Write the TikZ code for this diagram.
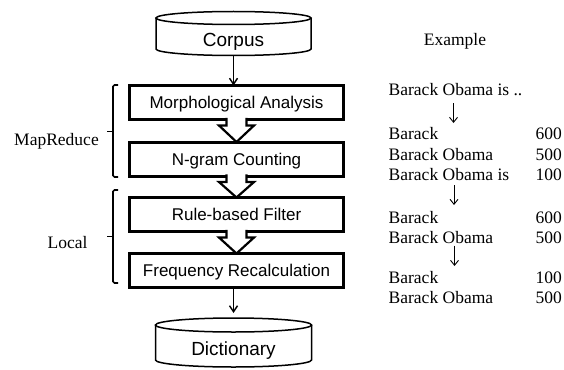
\documentclass[tikz,border=0pt]{standalone}
\usepackage{fontspec}
\setmainfont{Liberation Serif}
\setsansfont{Liberation Sans}
\usetikzlibrary{arrows.meta,calc}

\tikzset{
  stage/.style={draw, line width=3pt, outer sep=0pt, inner sep=0pt,
    minimum width=214pt, minimum height=34pt,
    text height=12.2pt, text depth=0pt,
    font=\sffamily\fontsize{17}{20}\selectfont},
  drumtext/.style={inner sep=0pt, text height=13.6pt, text depth=0pt,
    font=\sffamily\fontsize{19}{22}\selectfont},
  drumline/.style={line width=1.5pt, fill=white},
  flow/.style={line width=1.4pt, -{Straight Barb[length=6pt,width=8pt]}},
  hollow/.style={draw, fill=white, line width=2.2pt, line join=miter},
  bracket/.style={line width=1.7pt, rounded corners=1.5pt},
  serif/.style={inner sep=0pt, text height=11.5pt, text depth=0pt,
    font=\rmfamily\fontsize{17.5}{20}\selectfont},
  row/.style={inner sep=0pt, anchor=base west,
    font=\rmfamily\fontsize{17.5}{20}\selectfont},
  num/.style={inner sep=0pt, anchor=base east,
    font=\rmfamily\fontsize{17.5}{20}\selectfont},
  thinarrow/.style={line width=0.9pt, -{Straight Barb[length=5pt,width=8pt]}}
}

% open-topped block arrow from one stage box down to the next
\newcommand\hollowdown[2]{%
  \path[hollow] let \p1=(#1.south), \p2=(#2.north) in
    (\x1-10pt,\y1+1.6pt) -- (\x1-10pt,\y1-6pt) -- (\x1-17.5pt,\y1-6pt)
    -- (\x1,\y2) -- (\x1+17.5pt,\y1-6pt) -- (\x1+10pt,\y1-6pt)
    -- (\x1+10pt,\y1+1.6pt);
}

\begin{document}
\begin{tikzpicture}[x=1pt,y=-1pt]
\useasboundingbox[fill=white] (0,0) rectangle (564,369);

% Corpus drum
\draw[drumline] (156,18) -- (156,49)
  arc[start angle=180,end angle=0,x radius=77.5,y radius=6.5] -- (311,18);
\draw[drumline] (233.5,18) ellipse[x radius=77.5,y radius=6.5];
\node[drumtext] (corpus) at (233.5,40) {Corpus};
\coordinate (corpus-b) at (233.5,55.5);

% processing stages
\node[stage] (morph) at (236.5,102.5) {Morphological Analysis};
\node[stage] (ngram) at (236.5,159) {N-gram Counting};
\node[stage] (rule)  at (236.5,214.5) {Rule-based Filter};
\node[stage] (freq)  at (236.5,270.5) {Frequency Recalculation};

\hollowdown{morph}{ngram}
\hollowdown{ngram}{rule}
\hollowdown{rule}{freq}

% Dictionary drum
\draw[drumline] (155.5,325) -- (155.5,360)
  arc[start angle=180,end angle=0,x radius=78,y radius=7] -- (311.5,325);
\draw[drumline] (233.5,325) ellipse[x radius=78,y radius=7];
\node[drumtext] (dict) at (233.5,349) {Dictionary};
\coordinate (dict-t) at (233.5,313);

\draw[flow] (corpus-b) -- (corpus-b |- morph.north);
\draw[flow] (dict-t |- freq.south) -- (dict-t);

% grouping brackets
\draw[bracket] (118,85) -- (113,85) -- (113,177) -- (118,177);
\draw[line width=1.7pt] (113,131.5) -- (106.5,131.5);
\node[serif] (mapreduce) at (56.5,140) {MapReduce};

\draw[bracket] (118,190) -- (113,190) -- (113,283) -- (118,283);
\draw[line width=1.7pt] (113,236.5) -- (106.5,236.5);
\node[serif] (local) at (67.5,243) {Local};

% example column
\node[serif] (example) at (455,40) {Example};
\node[row] (in) at (388.5,95) {Barack Obama is ..};

\node[row] (a1) at (388.5,139.5) {Barack};
\node[num] (a1n) at (562,139.5) {600};
\node[row] (a2) at (388.5,160) {Barack Obama};
\node[num] (a2n) at (562,160) {500};
\node[row] (a3) at (388.5,180.5) {Barack Obama is};
\node[num] (a3n) at (562,180.5) {100};

\node[row] (b1) at (388.5,223.5) {Barack};
\node[num] (b1n) at (562,223.5) {600};
\node[row] (b2) at (388.5,243.5) {Barack Obama};
\node[num] (b2n) at (562,243.5) {500};

\node[row] (c1) at (388.5,283) {Barack};
\node[num] (c1n) at (562,283) {100};
\node[row] (c2) at (388.5,303) {Barack Obama};
\node[num] (c2n) at (562,303) {500};

\coordinate (s1) at (453.5,103);  \coordinate (e1) at (453.5,123);
\coordinate (s2) at (454,185);    \coordinate (e2) at (454,205);
\coordinate (s3) at (454.5,245.5);\coordinate (e3) at (454.5,266);
\draw[thinarrow] (s1) -- (e1);
\draw[thinarrow] (s2) -- (e2);
\draw[thinarrow] (s3) -- (e3);
\end{tikzpicture}
\end{document}
